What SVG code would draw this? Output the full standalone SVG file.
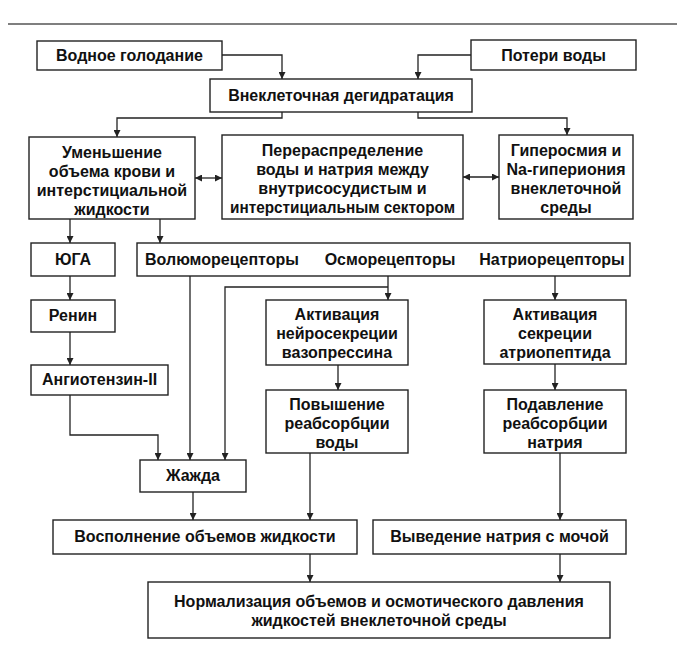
<svg xmlns="http://www.w3.org/2000/svg" width="677" height="661" viewBox="0 0 677 661">
<style>
.box{fill:#fff;stroke:#222;stroke-width:1.4}
.t{font-family:"Liberation Sans",Arial,sans-serif;font-weight:bold;font-size:16px;fill:#111;text-anchor:middle}
.c{fill:none;stroke:#222;stroke-width:1.3}
</style>
<defs>
<marker id="ah" viewBox="0 0 10 10" refX="10" refY="5" markerWidth="7" markerHeight="7" markerUnits="userSpaceOnUse" orient="auto-start-reverse">
<path d="M0,0 L10,5 L0,10 z" fill="#222"/>
</marker>
</defs>
<rect width="677" height="661" fill="#fff"/>
<line x1="8" y1="24" x2="677" y2="24" stroke="#555" stroke-width="1.5"/>

<g id="connectors">
<path class="c" d="M222,55 H282 V79" marker-end="url(#ah)"/>
<path class="c" d="M471,55 H418 V79" marker-end="url(#ah)"/>
<path class="c" d="M282,112 V118 H117 V137" marker-end="url(#ah)"/>
<path class="c" d="M418,112 V118 H567 V135" marker-end="url(#ah)"/>
<path class="c" d="M195,178 H222" marker-start="url(#ah)" marker-end="url(#ah)"/>
<path class="c" d="M463,177 H499" marker-start="url(#ah)" marker-end="url(#ah)"/>
<path class="c" d="M70,219 V243" marker-end="url(#ah)"/>
<path class="c" d="M160,219 V243" marker-end="url(#ah)"/>
<path class="c" d="M70,276 V300" marker-end="url(#ah)"/>
<path class="c" d="M70,332 V365" marker-end="url(#ah)"/>
<path class="c" d="M70,395 V435 H158 V460" marker-end="url(#ah)"/>
<path class="c" d="M190,276 V460" marker-end="url(#ah)"/>
<path class="c" d="M388,276 V300" marker-end="url(#ah)"/>
<path class="c" d="M388,287 H225 V460" marker-end="url(#ah)"/>
<path class="c" d="M338,365 V390" marker-end="url(#ah)"/>
<path class="c" d="M310,453 V520" marker-end="url(#ah)"/>
<path class="c" d="M193,492 V520" marker-end="url(#ah)"/>
<path class="c" d="M555,276 V300" marker-end="url(#ah)"/>
<path class="c" d="M555,364 V390" marker-end="url(#ah)"/>
<path class="c" d="M560,453 V520" marker-end="url(#ah)"/>
<path class="c" d="M310,554 V582" marker-end="url(#ah)"/>
<path class="c" d="M560,554 V582" marker-end="url(#ah)"/>
</g>

<g id="n-vodnoe"><rect class="box" x="37" y="41" width="185" height="29"/><text class="t" x="129.5" y="61">Водное голодание</text></g>
<g id="n-poteri"><rect class="box" x="471" y="40" width="165" height="30"/><text class="t" x="553.5" y="61">Потери воды</text></g>
<g id="n-vnekl"><rect class="box" x="210" y="79" width="262" height="33"/><text class="t" x="341" y="101">Внеклеточная дегидратация</text></g>
<g id="n-umen"><rect class="box" x="29" y="137" width="166" height="82"/><text class="t" x="112" y="158"><tspan x="112">Уменьшение</tspan><tspan x="112" dy="19">объема крови и</tspan><tspan x="112" dy="19">интерстициальной</tspan><tspan x="112" dy="19">жидкости</tspan></text></g>
<g id="n-perer"><rect class="box" x="222" y="135" width="241" height="84"/><text class="t" x="342.5" y="156"><tspan x="342.5">Перераспределение</tspan><tspan x="342.5" dy="19">воды и натрия между</tspan><tspan x="342.5" dy="19">внутрисосудистым и</tspan></text><text class="t" x="342.5" y="213" textLength="225" lengthAdjust="spacingAndGlyphs">интерстициальным сектором</text></g>
<g id="n-giper"><rect class="box" x="499" y="135" width="134" height="84"/><text class="t" x="566" y="156"><tspan x="566">Гиперосмия и</tspan><tspan x="566" dy="19">Na-гипериония</tspan><tspan x="566" dy="19">внеклеточной</tspan><tspan x="566" dy="19">среды</tspan></text></g>
<g id="n-yuga"><rect class="box" x="31" y="243" width="84" height="33"/><text class="t" x="73" y="265">ЮГА</text></g>
<g id="n-recept"><rect class="box" x="137" y="243" width="493" height="33"/><text class="t" x="222" y="265">Волюморецепторы</text><text class="t" x="390" y="265">Осморецепторы</text><text class="t" x="552" y="265">Натриорецепторы</text></g>
<g id="n-renin"><rect class="box" x="31" y="300" width="84" height="32"/><text class="t" x="73" y="321">Ренин</text></g>
<g id="n-angio"><rect class="box" x="31" y="365" width="137" height="30"/><text class="t" x="99.5" y="385">Ангиотензин-II</text></g>
<g id="n-aktneuro"><rect class="box" x="266" y="300" width="142" height="65"/><text class="t" x="337" y="320"><tspan x="337">Активация</tspan><tspan x="337" dy="19">нейросекреции</tspan><tspan x="337" dy="19">вазопрессина</tspan></text></g>
<g id="n-povysh"><rect class="box" x="266" y="390" width="142" height="63"/><text class="t" x="337" y="410"><tspan x="337">Повышение</tspan><tspan x="337" dy="19">реабсорбции</tspan><tspan x="337" dy="19">воды</tspan></text></g>
<g id="n-aktsekr"><rect class="box" x="484" y="300" width="142" height="64"/><text class="t" x="555" y="320"><tspan x="555">Активация</tspan><tspan x="555" dy="19">секреции</tspan><tspan x="555" dy="19">атриопептида</tspan></text></g>
<g id="n-podavl"><rect class="box" x="484" y="390" width="142" height="63"/><text class="t" x="555" y="410"><tspan x="555">Подавление</tspan><tspan x="555" dy="19">реабсорбции</tspan><tspan x="555" dy="19">натрия</tspan></text></g>
<g id="n-zhazhda"><rect class="box" x="140" y="460" width="106" height="32"/><text class="t" x="193" y="481">Жажда</text></g>
<g id="n-vospol"><rect class="box" x="53" y="520" width="304" height="34"/><text class="t" x="205" y="542">Восполнение объемов жидкости</text></g>
<g id="n-vyved"><rect class="box" x="373" y="520" width="253" height="34"/><text class="t" x="499.5" y="542">Выведение натрия с мочой</text></g>
<g id="n-norm"><rect class="box" x="148" y="582" width="462" height="56"/><text class="t" x="379" y="607"><tspan x="379">Нормализация объемов и осмотического давления</tspan><tspan x="379" dy="19">жидкостей внеклеточной среды</tspan></text></g>
</svg>
